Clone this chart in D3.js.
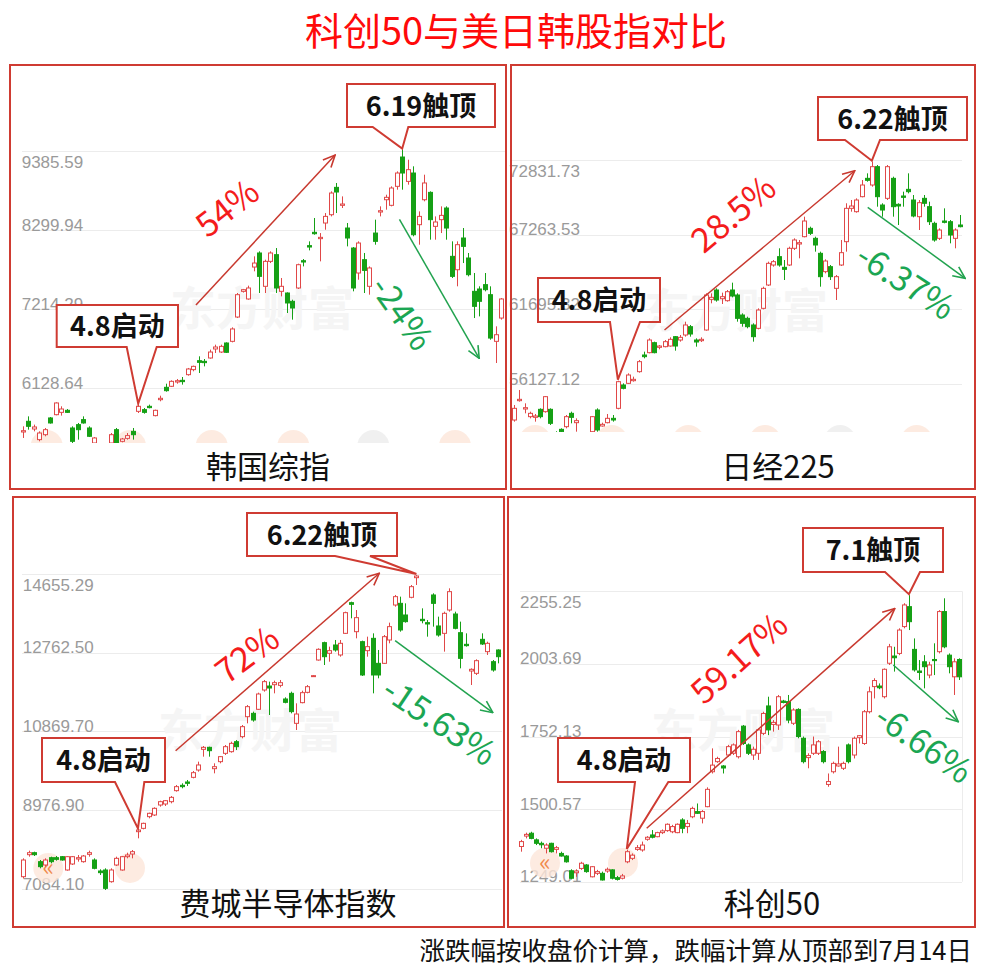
<!DOCTYPE html>
<meta charset="utf-8">
<style>
body { margin: 0; background: #fff; }
svg text { font-family: "Noto Sans CJK SC", "Noto Sans", sans-serif; }
.tick-label { font-family: "Liberation Sans", Arial, sans-serif; font-size: 17px; fill: #9a9a9a; }
</style>
<svg width="987" height="970"></svg>
<script src="https://d3js.org/d3.v7.min.js"></script>
<script>

// ---- data: daily candles [open, high, low, close] ----
var koreaTicks = [6128.64, 7214.29, 8299.94, 9385.59];
var korea = [
  [5524,5602,5442,5542],[5671,5739,5556,5602],[5565,5625,5533,5593],[5419,5533,5396,5510],[5487,5579,5465,5556],
  [5717,5730,5639,5648],[5762,5932,5753,5923],[5794,5877,5749,5840],[5822,5840,5785,5794],[5579,5602,5373,5396],
  [5625,5648,5419,5556],[5694,5739,5639,5648],[5579,5602,5455,5465],[5373,5455,5350,5442],[5300,5340,5250,5320],
  [5320,5360,5280,5300],[5373,5510,5364,5487],[5556,5579,5350,5373],[5396,5442,5382,5428],[5437,5510,5419,5474],
  [5533,5579,5419,5487],[5808,5900,5785,5877],[5831,5854,5776,5794],[5877,5900,5849,5859],[5749,5831,5739,5822],
  [5968,6023,5946,5987],[6138,6188,6078,6092],[6152,6234,6142,6220],[6211,6252,6188,6229],[6234,6280,6175,6216],
  [6312,6404,6298,6390],[6381,6436,6358,6426],[6504,6564,6335,6481],[6495,6527,6426,6477],[6541,6656,6532,6623],
  [6665,6724,6610,6692],[6623,6724,6610,6701],[6747,6756,6610,6619],[6770,6962,6756,6940],[7104,7434,7090,7411],
  [7457,7490,7440,7480],[7352,7535,7342,7503],[7791,7938,7732,7846],[7984,8007,7434,7663],[7526,7892,7434,7869],
  [7869,8007,7846,7984],[7961,8052,7434,7503],[7457,7640,7388,7526],[7434,7443,7159,7297],[7320,7342,7068,7228],
  [7503,7837,7489,7823],[7878,7901,7800,7860],[8085,8144,8020,8066],[8268,8465,8235,8249],[8181,8258,7869,8199],
  [8396,8533,8304,8487],[8510,8831,8487,8808],[8886,8946,8533,8822],[8639,8762,8602,8657],[8327,8396,8075,8190],
  [8052,8066,7457,7503],[7709,8144,7617,8121],[7892,7984,7434,7745],[7526,7800,7411,7778],[8258,8442,8098,8144],
  [8547,8625,8487,8565],[8716,8785,8579,8749],[8639,8900,8625,8877],[8900,9106,8854,9083],[9303,9404,8854,9083],
  [8968,9266,8923,9129],[9083,9175,8213,8235],[8373,8556,8098,8487],[8716,9060,8694,8946],[8817,8831,8167,8442],
  [8350,8487,8167,8410],[8442,8625,8258,8501],[8602,8625,8167,8327],[7938,8144,7640,7663],[7754,8144,7526,8098],
  [8190,8327,7846,8075],[7915,7984,7663,7686],[7457,7709,7090,7251],[7489,7526,7113,7320],[7549,7709,7457,7480],
  [7411,7526,6792,6815],[6770,6976,6472,6861],[7090,7365,7068,7352]
];

var nikkeiTicks = [56127.12, 61695.32, 67263.53, 72831.73];
var nikkei = [
  [54437,54561,52572,52697],[53442,54561,53318,54312],[54884,55680,54810,54984],[54263,54685,53940,54362],[53691,54064,53567,53940],
  [53641,53890,53318,53741],[54238,54312,53567,53691],[54064,55232,53989,55183],[54238,54312,53069,53194],[52400,52600,52000,52200],
  [52746,52821,52324,52572],[52945,53815,52821,53691],[53940,54064,53194,53641],[53243,53567,52572,53393],[52300,52500,52000,52100],
  [52200,52450,51900,52350],[52572,53741,52498,53691],[54188,54312,52572,52697],[52995,53243,52945,53119],[53243,53890,53194,53567],
  [53567,53815,53318,53442],[54312,56375,54238,56301],[56052,56176,55729,55804],[56176,56922,56127,56798],[56375,56674,56301,56475],
  [57047,57917,56972,57793],[58290,58539,58041,58166],[58464,59533,58414,59408],[59209,59284,58414,58464],[58861,59035,58712,58960],
  [58911,59408,58861,59284],[58960,59607,58911,59458],[59657,59706,58613,58960],[59408,59781,59284,59607],[59781,60775,59657,60527],
  [60402,60527,59657,59855],[59408,59533,58911,59259],[59358,59607,59259,59458],[60154,62888,60104,62764],[62440,62888,62142,62589],
  [63137,63261,62267,62391],[62490,62938,62093,62639],[62341,63137,62267,63012],[63137,63684,62589,62689],[62764,62888,60775,61024],
  [61272,61397,60402,60651],[61024,61148,60278,60402],[60527,60651,59284,59657],[60278,61770,60203,61645],[61770,63385,61695,63261],
  [63510,65250,63435,65125],[65001,65374,64877,65250],[65623,66246,64877,65001],[64827,65374,63882,64678],[65001,66368,64926,66246],
  [66246,66990,66121,66866],[66567,66866,65498,66667],[67114,68605,67064,68282],[67735,67860,67238,67362],[66990,67114,65996,66493],
  [65871,65996,63385,64131],[64505,65424,64380,65299],[64877,65001,63882,64131],[63261,64255,62391,64131],[65001,66866,64926,65921],
  [66741,69603,65996,69227],[69227,69848,68978,69401],[68978,69972,68904,69848],[70097,71340,70047,70967],[71464,71837,71215,71315],
  [70967,72707,70842,72334],[72334,72458,69351,70097],[69475,69603,68605,69102],[69972,72458,69848,72334],[71464,71588,68605,69351],
  [69525,69603,67984,69401],[70147,70470,69351,70047],[70643,71837,70345,70470],[69848,70221,68556,68655],[68605,69848,67611,69649],
  [69972,70221,69351,69603],[69351,69724,67984,68232],[68108,68232,66741,66866],[66990,67735,66866,67611],[68282,69227,68108,68183],
  [68232,68357,66617,67238],[66990,67735,66246,67611],[67984,68730,67810,67860]
];

var soxTicks = [7084.10, 8976.90, 10869.70, 12762.50, 14655.29];
var sox = [
  [7380,7821,7340,7781],[7909,8005,7861,7957],[7957,7981,7877,7909],[7741,7781,7581,7621],[7661,7821,7621,7781],
  [7837,7861,7701,7741],[7837,7877,7765,7797],[7861,7877,7765,7781],[7541,7877,7525,7861],[7685,7877,7661,7861],
  [7805,7901,7741,7837],[7741,7901,7717,7877],[7917,8005,7861,7957],[7781,7821,7557,7581],[7517,7557,7421,7477],
  [7541,7581,7060,7100],[7260,7581,7236,7541],[7661,7861,7637,7821],[7541,7877,7525,7861],[7861,7957,7821,7901],
  [7925,8021,7821,7981],[8462,8518,8302,8502],[8542,8678,8518,8662],[8823,8919,8783,8903],[8863,9047,8839,9023],
  [9103,9207,9063,9183],[9127,9223,9079,9207],[9183,9319,9143,9287],[9448,9584,9424,9544],[9576,9624,9504,9544],
  [9656,9704,9560,9624],[9768,9920,9744,9880],[9944,10145,9904,10065],[10441,10521,10265,10489],[10489,10505,10265,10409],
  [9976,10105,9864,10024],[10145,10281,10105,10265],[10345,10545,10305,10505],[10385,10625,10361,10585],[10625,10665,10425,10505],
  [10746,11026,10706,10986],[11226,11507,11066,11467],[11306,11347,11106,11146],[11403,11803,11387,11771],[11867,12108,11827,12068],
  [11963,12068,11266,11915],[11995,12092,11787,12043],[11979,12108,11931,12043],[11651,11691,11547,11571],[11787,11827,11306,11347],
  [11066,11547,10906,11290],[11563,11851,11547,11803],[11811,11987,11787,11947],[12196,12228,12180,12212],[12588,12869,12572,12845],
  [13005,13029,12468,12668],[12749,12909,12548,12813],[12949,13069,12789,12829],[12709,13069,12668,12989],[13229,13750,13213,13726],
  [13966,13990,13590,13926],[13269,13790,13109,13606],[13029,13053,12204,12228],[12813,13149,12668,12909],[13109,13229,11787,12228],
  [12508,12829,12148,12228],[12508,13189,12492,13149],[13069,13486,12989,13390],[13910,14151,13870,14111],[13950,14111,13269,13310],
  [13670,13950,13486,13510],[14095,14391,14071,14351],[14567,14631,14391,14607],[13566,13830,13470,13534],[13486,13550,13149,13454],
  [14151,14191,13390,13950],[13406,13630,13149,13189],[13229,13750,12789,13710],[13790,14311,13750,14231],[13694,13750,13326,13350],
  [13245,13510,12388,12628],[12965,13229,12909,12933],[12324,12388,11987,12364],[12268,12604,12228,12572],[13085,13229,12949,12973],
  [12789,13029,12709,12989],[12548,12588,12308,12348],[12829,12845,12508,12668]
];

var starTicks = [1249.01, 1500.57, 1752.13, 2003.69, 2255.25];
var star = [
  [1371,1394,1353,1388],[1407,1419,1399,1413],[1417,1422,1396,1399],[1394,1399,1376,1382],[1382,1388,1365,1377],
  [1365,1382,1347,1376],[1382,1384,1350,1353],[1361,1373,1347,1367],[1347,1353,1336,1338],[1338,1341,1315,1318],
  [1287,1292,1257,1261],[1280,1292,1266,1286],[1295,1318,1290,1313],[1307,1310,1280,1284],[1266,1303,1264,1301],
  [1278,1290,1272,1284],[1278,1284,1253,1255],[1286,1298,1280,1292],[1290,1292,1257,1261],[1263,1269,1253,1257],
  [1261,1276,1257,1269],[1318,1359,1313,1353],[1330,1347,1324,1341],[1361,1376,1356,1367],[1359,1388,1353,1376],
  [1396,1407,1391,1403],[1411,1428,1399,1403],[1405,1422,1403,1419],[1419,1430,1414,1425],[1426,1451,1422,1448],
  [1422,1446,1417,1440],[1419,1451,1417,1448],[1463,1469,1417,1434],[1440,1463,1417,1451],[1474,1509,1469,1503],
  [1492,1520,1484,1486],[1469,1497,1451,1492],[1509,1576,1507,1569],[1630,1711,1624,1653],[1665,1682,1661,1676],
  [1650,1653,1624,1643],[1688,1723,1682,1717],[1694,1728,1688,1723],[1682,1775,1676,1769],[1788,1792,1723,1728],
  [1723,1728,1688,1694],[1688,1717,1671,1708],[1694,1780,1671,1775],[1763,1838,1757,1832],[1858,1890,1757,1775],
  [1794,1809,1769,1801],[1792,1896,1775,1890],[1875,1879,1867,1870],[1873,1896,1798,1809],[1798,1850,1792,1844],
  [1846,1850,1746,1752],[1746,1752,1659,1665],[1679,1694,1642,1686],[1694,1752,1688,1723],[1694,1740,1688,1734],
  [1700,1705,1659,1665],[1586,1624,1578,1596],[1630,1665,1624,1659],[1650,1717,1648,1657],[1642,1665,1636,1659],
  [1723,1728,1659,1665],[1688,1752,1676,1746],[1748,1757,1728,1755],[1728,1844,1723,1838],[1838,1925,1832,1907],
  [1925,1954,1884,1946],[1927,1936,1916,1921],[1890,1988,1884,1985],[2006,2073,2000,2063],[2031,2063,1977,2025],
  [2040,2127,2034,2121],[2133,2214,2127,2208],[2202,2242,2121,2150],[2054,2092,1977,1983],[1979,2017,1948,1974],
  [2011,2034,1919,1994],[1965,2011,1954,2000],[2019,2075,1965,2015],[2046,2190,2040,2185],[2185,2231,2058,2063],
  [2034,2040,1971,1994],[1959,2023,1896,2011],[2019,2023,1948,1959]
];

var panelNames = ["韩国综指", "日经225", "费城半导体指数", "科创50"];
var startLabels = ["4.8启动", "4.8启动", "4.8启动", "4.8启动"];
var topLabels = ["6.19触顶", "6.22触顶", "6.22触顶", "7.1触顶"];
var riseLabels = ["54%", "28.5%", "72%", "59.17%"];
var fallLabels = ["-24%", "-6.37%", "-15.63%", "-6.66%"];

var UP = "#e04848", DOWN = "#15a015";
var RED_TXT = "#f41c1c", GREEN_TXT = "#1ba653";
var RED_ARR = "#c8392f", GREEN_ARR = "#22a34f";
var FRAME = "#cf3b32";

// ---- layout (pixels) and annotation anchors (candle index, index value) ----
var panels = [
  { data: korea, ticks: koreaTicks, frame: [10, 65, 506, 489], clip: [11, 66, 505, 443],
    xr: [22.7, 501.2], yr: [388, 151], labelX: 21.7, grid: [22, 505], titleAt: [268, 478],
    startIdx: 21, peakIdx: 69,
    startBox: { box: [56.7, 305, 178, 347], base: [126.7, 156.7], fill: "#fff" },
    peakBox: { box: [347, 84, 495, 127], base: [372.7, 408.3], fill: "#fff" },
    rise: { from: [31.5, 7269], to: [56.8, 9330], at: [37.2, 8598], rot: -38 },
    fall: { from: [68.5, 8447], to: [83.0, 6537], at: [68.9, 7155], rot: 55 },
    mark: [262, 325],
    dots: [[46.7, 446, 1], [130, 446, 1], [211.7, 446, 1], [293.3, 446, 1], [373.3, 446, 0], [455, 446, 1]], dotR: 16 },
  { data: nikkei, ticks: nikkeiTicks, frame: [511, 65, 975, 489], clip: [512, 66, 974, 432],
    xr: [509, 960], yr: [384, 160], labelX: 509, grid: [511, 962], titleAt: [778, 478],
    startIdx: 21, peakIdx: 70,
    startBox: { box: [538, 278, 660, 322], base: [610, 640], fill: "none" },
    peakBox: { box: [818, 97, 967, 140], base: [845, 880], fill: "#fff" },
    rise: { from: [30.0, 60154], to: [66.7, 72033], at: [43.3, 68804], rot: -40 },
    fall: { from: [69.2, 69304], to: [88.0, 64009], at: [76.5, 63755], rot: 33 },
    mark: [736, 327],
    dots: [[535, 441, 1], [611.7, 441, 1], [688.3, 441, 1], [765, 441, 1], [840, 441, 0], [916.7, 441, 1]], dotR: 16 },
  { data: sox, ticks: soxTicks, frame: [13, 497, 504, 927], clip: [14, 498, 503, 926],
    xr: [23.3, 498.3], yr: [889, 574], labelX: 22.7, grid: [22, 502], titleAt: [288, 915],
    startIdx: 21, peakIdx: 72,
    startBox: { box: [42, 738, 165, 782], base: [115, 144.3], fill: "#fff" },
    peakBox: { box: [247, 513, 397, 556], base: [335, 370], fill: "#fff" },
    rise: { from: [27.9, 10408], to: [65.2, 14672], at: [41.0, 12708], rot: -37 },
    fall: { from: [68.1, 13052], to: [86.0, 11322], at: [76.2, 11105], rot: 34 },
    mark: [250, 747],
    dots: [[48.3, 868, 2], [130, 868, 1]], dotR: 15 },
  { data: star, ticks: starTicks, frame: [508, 497, 975, 927], clip: [509, 498, 974, 926],
    xr: [521, 959.3], yr: [881.7, 591.3], labelX: 520, grid: [520, 962], titleAt: [772, 915],
    startIdx: 21, peakIdx: 77, rightLine: 962,
    startBox: { box: [558, 738, 690, 782], base: [635, 668.3], fill: "#fff" },
    peakBox: { box: [803, 528, 943, 572], base: [885, 920], fill: "#fff" },
    rise: { from: [24.95, 1434], to: [74.2, 2196], at: [43.3, 2023], rot: -42 },
    fall: { from: [73.9, 2000], to: [86.8, 1803], at: [79.9, 1726], rot: 35 },
    mark: [743, 747],
    dots: [[545, 863, 2], [623, 863, 1]], dotR: 15 }
];

var svg = d3.select("svg");
var defs = svg.append("defs");

function arrowMarker(id, color) {
  defs.append("marker")
      .attr("id", id)
      .attr("viewBox", "0 0 14 14")
      .attr("refX", 13).attr("refY", 7)
      .attr("markerWidth", 14).attr("markerHeight", 14)
      .attr("markerUnits", "userSpaceOnUse")
      .attr("orient", "auto")
    .append("path")
      .attr("d", "M1,1.5 L13,7 L1,12.5")
      .attr("fill", "none")
      .attr("stroke", color)
      .attr("stroke-width", 1.6);
}
arrowMarker("arr-red", RED_ARR);
arrowMarker("arr-green", GREEN_ARR);

// title
svg.append("text")
    .attr("x", 516).attr("y", 45)
    .attr("text-anchor", "middle")
    .style("font-size", "38px")
    .attr("fill", "#ff0a0a")
    .text("科创50与美日韩股指对比");

panels.forEach(function(p, k) {
  var g = svg.append("g");
  var n = p.data.length;
  var x = d3.scaleLinear().domain([0, n - 1]).range(p.xr);
  var y = d3.scaleLinear().domain([p.ticks[0], p.ticks[p.ticks.length - 1]]).range(p.yr);
  var step = (p.xr[1] - p.xr[0]) / (n - 1);
  var bw = Math.round(step * 0.72);
  var top = p.ticks.length - 1;

  // grid lines + labels
  g.selectAll("line.grid").data(p.ticks).join("line")
      .attr("class", "grid")
      .attr("x1", p.grid[0]).attr("x2", p.grid[1])
      .attr("y1", function(d) { return Math.round(y(d)) + 0.5; })
      .attr("y2", function(d) { return Math.round(y(d)) + 0.5; })
      .attr("stroke", "#ececec");
  if (p.rightLine) {
    g.append("line")
        .attr("x1", p.rightLine + 0.5).attr("x2", p.rightLine + 0.5)
        .attr("y1", y(p.ticks[top])).attr("y2", y(p.ticks[0]))
        .attr("stroke", "#ececec");
  }
  g.selectAll("text.tick-label").data(p.ticks).join("text")
      .attr("class", "tick-label")
      .attr("x", p.labelX)
      .attr("y", function(d, i) { return i === top ? y(d) + 17 : y(d) + 0.5; })
      .text(d3.format(".2f"));

  // faint watermark
  g.append("text")
      .attr("x", p.mark[0]).attr("y", p.mark[1])
      .attr("text-anchor", "middle")
      .style("font-size", "46px").style("font-weight", 700)
      .attr("fill", "#f5f5f5")
      .text("东方财富");

  defs.append("clipPath").attr("id", "clip" + k)
    .append("rect")
      .attr("x", p.clip[0]).attr("y", p.clip[1])
      .attr("width", p.clip[2] - p.clip[0]).attr("height", p.clip[3] - p.clip[1]);
  var plot = g.append("g").attr("clip-path", "url(#clip" + k + ")");

  // app buttons peeking at the bottom
  var dots = plot.selectAll("g.dot").data(p.dots).join("g").attr("class", "dot");
  dots.append("circle")
      .attr("cx", function(d) { return d[0]; }).attr("cy", function(d) { return d[1]; })
      .attr("r", p.dotR)
      .attr("fill", function(d) { return d[2] ? "#fde6d9" : "#ececec"; })
      .attr("opacity", 0.8);
  dots.filter(function(d) { return d[2] === 2; }).append("text")
      .attr("x", function(d) { return d[0]; }).attr("y", function(d) { return d[1] + 8; })
      .attr("text-anchor", "middle")
      .style("font-size", "24px")
      .attr("fill", "#f08a4b")
      .text("«");

  // candles
  var c = plot.selectAll("g.candle").data(p.data).join("g").attr("class", "candle");
  c.append("line")
      .attr("x1", function(d, i) { return Math.round(x(i)) + 0.5; })
      .attr("x2", function(d, i) { return Math.round(x(i)) + 0.5; })
      .attr("y1", function(d) { return y(d[1]); })
      .attr("y2", function(d) { return y(d[2]); })
      .attr("stroke", function(d) { return d[3] >= d[0] ? UP : DOWN; });
  c.append("rect")
      .attr("x", function(d, i) { return Math.round(x(i)) + 0.5 - bw / 2; })
      .attr("y", function(d) { return y(Math.max(d[0], d[3])); })
      .attr("width", bw)
      .attr("height", function(d) { return Math.max(1, Math.abs(y(d[0]) - y(d[3]))); })
      .attr("fill", function(d) { return d[3] >= d[0] ? "#fff" : DOWN; })
      .attr("stroke", function(d) { return d[3] >= d[0] ? UP : DOWN; })
      .attr("stroke-width", 1);

  // trend arrows
  [[p.rise, RED_ARR, "arr-red"], [p.fall, GREEN_ARR, "arr-green"]].forEach(function(a) {
    g.append("line")
        .attr("x1", x(a[0].from[0])).attr("y1", y(a[0].from[1]))
        .attr("x2", x(a[0].to[0])).attr("y2", y(a[0].to[1]))
        .attr("stroke", a[1]).attr("stroke-width", 1.5)
        .attr("marker-end", "url(#" + a[2] + ")");
  });

  // percentage labels
  [[p.rise, riseLabels[k], RED_TXT], [p.fall, fallLabels[k], GREEN_TXT]].forEach(function(t) {
    g.append("text")
        .attr("transform", "translate(" + x(t[0].at[0]) + "," + y(t[0].at[1]) + ") rotate(" + t[0].rot + ")")
        .attr("text-anchor", "middle")
        .attr("dy", "0.35em")
        .style("font-size", "34px")
        .attr("fill", t[2])
        .text(t[1]);
  });

  // callouts pointing at the start and the top candle
  function callout(cfg, idx, label) {
    var b = cfg.box;
    var tx = x(idx), ty = y(p.data[idx][1]) - 1;
    var d = "M" + b[0] + "," + b[1] + "H" + b[2] + "V" + b[3] + "H" + cfg.base[1] +
            "L" + tx + "," + ty + "L" + cfg.base[0] + "," + b[3] + "H" + b[0] + "Z";
    g.append("path")
        .attr("d", d)
        .attr("fill", cfg.fill)
        .attr("stroke", FRAME)
        .attr("stroke-width", 2)
        .attr("stroke-linejoin", "miter");
    g.append("text")
        .attr("x", (b[0] + b[2]) / 2).attr("y", (b[1] + b[3]) / 2 + 10)
        .attr("text-anchor", "middle")
        .style("font-size", "27px").style("font-weight", 700)
        .attr("fill", "#111")
        .text(label);
  }
  callout(p.startBox, p.startIdx, startLabels[k]);
  callout(p.peakBox, p.peakIdx, topLabels[k]);

  // panel name
  g.append("text")
      .attr("x", p.titleAt[0]).attr("y", p.titleAt[1])
      .attr("text-anchor", "middle")
      .style("font-size", "31px")
      .attr("fill", "#111")
      .text(panelNames[k]);

  // frame
  g.append("rect")
      .attr("x", p.frame[0]).attr("y", p.frame[1])
      .attr("width", p.frame[2] - p.frame[0]).attr("height", p.frame[3] - p.frame[1])
      .attr("fill", "none")
      .attr("stroke", FRAME)
      .attr("stroke-width", 2);
});

// footnote
svg.append("text")
    .attr("x", 972).attr("y", 960)
    .attr("text-anchor", "end")
    .style("font-size", "25.5px")
    .attr("fill", "#111")
    .text("涨跌幅按收盘价计算，跌幅计算从顶部到7月14日");

</script>
